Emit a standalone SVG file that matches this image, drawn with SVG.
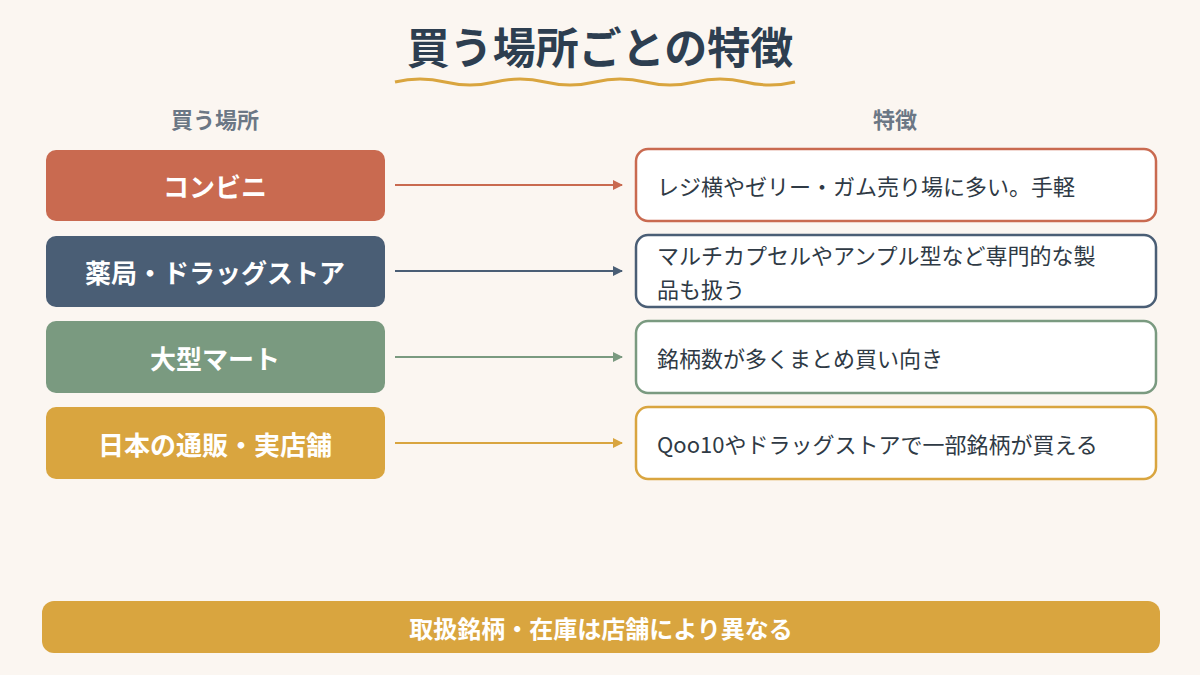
<svg xmlns="http://www.w3.org/2000/svg" width="1200" height="675" viewBox="0 0 1200 675">
<style>
text{font-family:"Noto Sans CJK JP","Noto Sans",sans-serif}
.lb{fill:#fff;font-size:26px;font-weight:bold;text-anchor:middle;dominant-baseline:central}
.rt{fill:#2f3a45;font-size:22px;dominant-baseline:central}
.hd{fill:#6b7785;font-size:22px;font-weight:bold;text-anchor:middle}
.rb{fill:#fff;stroke-width:2.5}
</style>
<defs>
<marker id="a1" markerWidth="10" markerHeight="10" refX="9" refY="5" orient="auto" markerUnits="userSpaceOnUse"><path d="M0,0L10,5L0,10z" fill="#c96a50"/></marker>
<marker id="a2" markerWidth="10" markerHeight="10" refX="9" refY="5" orient="auto" markerUnits="userSpaceOnUse"><path d="M0,0L10,5L0,10z" fill="#4a5e75"/></marker>
<marker id="a3" markerWidth="10" markerHeight="10" refX="9" refY="5" orient="auto" markerUnits="userSpaceOnUse"><path d="M0,0L10,5L0,10z" fill="#7a9a80"/></marker>
<marker id="a4" markerWidth="10" markerHeight="10" refX="9" refY="5" orient="auto" markerUnits="userSpaceOnUse"><path d="M0,0L10,5L0,10z" fill="#d9a53f"/></marker>
</defs>
<rect width="1200" height="675" fill="#fbf6f1"/>
<text x="600" y="64" text-anchor="middle" font-size="43" font-weight="bold" fill="#2d3e50">買う場所ごとの特徴</text>
<path d="M395,82 Q420,76 445,82 T495,82 T545,82 T595,82 T645,82 T695,82 T745,82 T795,82" fill="none" stroke="#d9a53f" stroke-width="3"/>
<text class="hd" x="215" y="128">買う場所</text>
<text class="hd" x="895" y="128">特徴</text>
<g id="connectors">
<line x1="395" y1="185" x2="622" y2="185" stroke="#c96a50" stroke-width="2" marker-end="url(#a1)"/>
<line x1="395" y1="271" x2="622" y2="271" stroke="#4a5e75" stroke-width="2" marker-end="url(#a2)"/>
<line x1="395" y1="357" x2="622" y2="357" stroke="#7a9a80" stroke-width="2" marker-end="url(#a3)"/>
<line x1="395" y1="443" x2="622" y2="443" stroke="#d9a53f" stroke-width="2" marker-end="url(#a4)"/>
</g>
<g id="n1"><rect x="46" y="150" width="339" height="71" rx="10" fill="#c96a50"/><text class="lb" x="215" y="185">コンビニ</text></g>
<g id="n2"><rect x="46" y="236" width="339" height="71" rx="10" fill="#4a5e75"/><text class="lb" x="215" y="271">薬局・ドラッグストア</text></g>
<g id="n3"><rect x="46" y="321" width="339" height="72" rx="10" fill="#7a9a80"/><text class="lb" x="215" y="357">大型マート</text></g>
<g id="n4"><rect x="46" y="407" width="339" height="72" rx="10" fill="#d9a53f"/><text class="lb" x="215" y="443">日本の通販・実店舗</text></g>
<g id="r1"><rect class="rb" x="636" y="149" width="520" height="72" rx="12" stroke="#c96a50"/><text class="rt" x="657" y="185">レジ横やゼリー・ガム売り場に多い。手軽</text></g>
<g id="r2"><rect class="rb" x="636" y="235" width="520" height="72" rx="12" stroke="#4a5e75"/><text class="rt" x="657" y="254">マルチカプセルやアンプル型など専門的な製</text><text class="rt" x="657" y="288">品も扱う</text></g>
<g id="r3"><rect class="rb" x="636" y="321" width="520" height="72" rx="12" stroke="#7a9a80"/><text class="rt" x="657" y="357">銘柄数が多くまとめ買い向き</text></g>
<g id="r4"><rect class="rb" x="636" y="407" width="520" height="72" rx="12" stroke="#d9a53f"/><text class="rt" x="657" y="443">Qoo10やドラッグストアで一部銘柄が買える</text></g>
<g id="bar"><rect x="42" y="601" width="1118" height="52" rx="12" fill="#d9a53f"/><text x="601" y="627" text-anchor="middle" dominant-baseline="central" font-size="24" font-weight="bold" fill="#fff">取扱銘柄・在庫は店舗により異なる</text></g>
</svg>
